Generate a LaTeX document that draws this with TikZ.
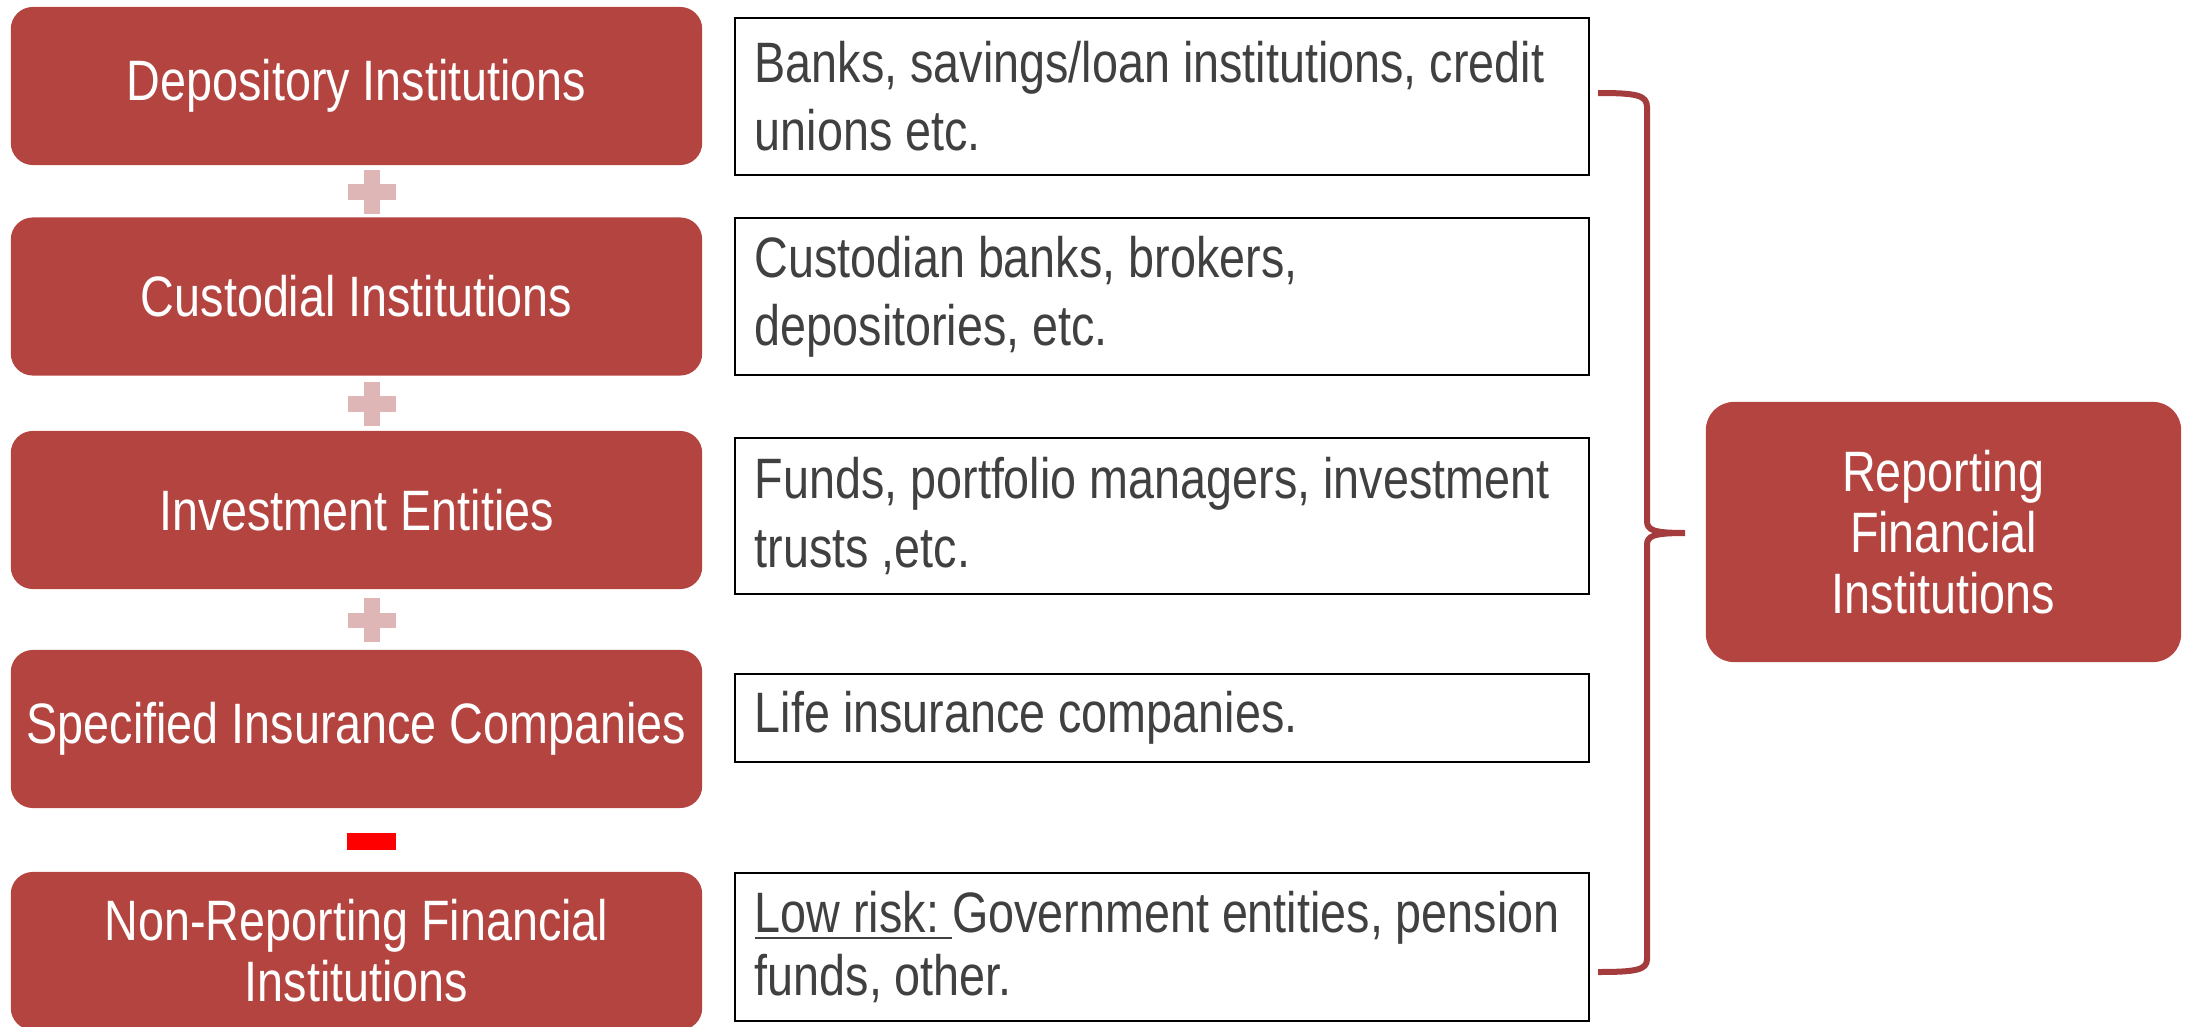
\documentclass[tikz,border=0pt]{standalone}
\usepackage{fontspec}
\setmainfont{Liberation Sans}[FakeStretch=0.82]

\definecolor{boxred}{RGB}{180,68,64}
\definecolor{bracered}{RGB}{164,60,62}
\definecolor{pluspink}{RGB}{223,182,182}
\definecolor{minusred}{RGB}{255,0,0}
\definecolor{textgray}{RGB}{64,64,64}

\tikzset{
  redbox/.style={fill=boxred, rounded corners=0.22cm, minimum width=6.91cm, minimum height=1.58cm,
    inner sep=0pt, text=white, align=center, font=\fontsize{16.2}{17.4}\selectfont},
  descbox/.style={draw=black, line width=0.7pt, text=textgray, text width=8.14cm, inner xsep=0.2cm,
    inner ysep=0pt, align=flush left, font=\fontsize{16.2}{19.4}\selectfont,
    execute at begin node={\spaceskip=0pt\xspaceskip=0pt\hyphenpenalty=10000}},
  plusbar/.style={fill=pluspink, inner sep=0pt},
}

\begin{document}
\begin{tikzpicture}[x=0.01cm, y=-0.01cm]
        \useasboundingbox (0,0) rectangle (2187,1027);

        \node [redbox] (dep) at (356.5,86) {Depository Institutions};
        \node [redbox] (cus) at (356.5,296.5) {Custodial Institutions};
        \node [redbox] (inv) at (356.5,510) {Investment Entities};
        \node [redbox] (ins) at (356.5,729) {Specified Insurance Companies};
        \node [redbox] (nonrep) at (356.5,951) {Non-Reporting Financial\\Institutions};

        \node [descbox, minimum height=1.57cm] (depdesc) at (1162,96.5) {Banks, savings/loan institutions, credit\\unions etc.};
        \node [descbox, minimum height=1.57cm] (cusdesc) at (1162,296.5) {Custodian banks, brokers,\\depositories, etc.};
        \node [descbox, minimum height=1.56cm] (invdesc) at (1162,516) {Funds, portfolio managers, investment\\trusts ,etc.};
        \node [descbox, minimum height=0.88cm] (insdesc) at (1162,718) {Life insurance companies.};
        \node [descbox, minimum height=1.48cm, font=\fontsize{16.2}{18}\selectfont] (nonrepdesc) at (1162,947) {\underline{Low risk:~}Government entities, pension\\funds, other.};

        \node [plusbar, minimum width=0.48cm, minimum height=0.15cm] (plusAh) at (372,192) {};
        \node [plusbar, minimum width=0.15cm, minimum height=0.44cm] (plusAv) at (372,192) {};
        \node [plusbar, minimum width=0.48cm, minimum height=0.15cm] (plusBh) at (372,404) {};
        \node [plusbar, minimum width=0.15cm, minimum height=0.44cm] (plusBv) at (372,404) {};
        \node [plusbar, minimum width=0.48cm, minimum height=0.15cm] (plusCh) at (372,620) {};
        \node [plusbar, minimum width=0.15cm, minimum height=0.44cm] (plusCv) at (372,620) {};
        \node [fill=minusred, inner sep=0pt, minimum width=0.49cm, minimum height=0.17cm] (minus) at (371.5,841.5) {};

        \coordinate (bracetop) at (1598,93);
        \coordinate (bracetip) at (1685,533);
        \coordinate (bracebot) at (1598,972);
        \draw [bracered, line width=0.06cm] (bracetop) .. controls (1636,93) and (1647,95) .. (1647,107)
                -- (1647,521) .. controls (1647,530) and (1653,533) .. (bracetip)
                .. controls (1653,533) and (1647,536) .. (1647,545)
                -- (1647,959) .. controls (1647,970) and (1636,972) .. (bracebot);

        \node [redbox, minimum width=4.75cm, minimum height=2.60cm, rounded corners=0.28cm, font=\fontsize{16.2}{17.4}\selectfont] (rfi) at (1943.5,532) {Reporting\\Financial\\Institutions};
\end{tikzpicture}
\end{document}
